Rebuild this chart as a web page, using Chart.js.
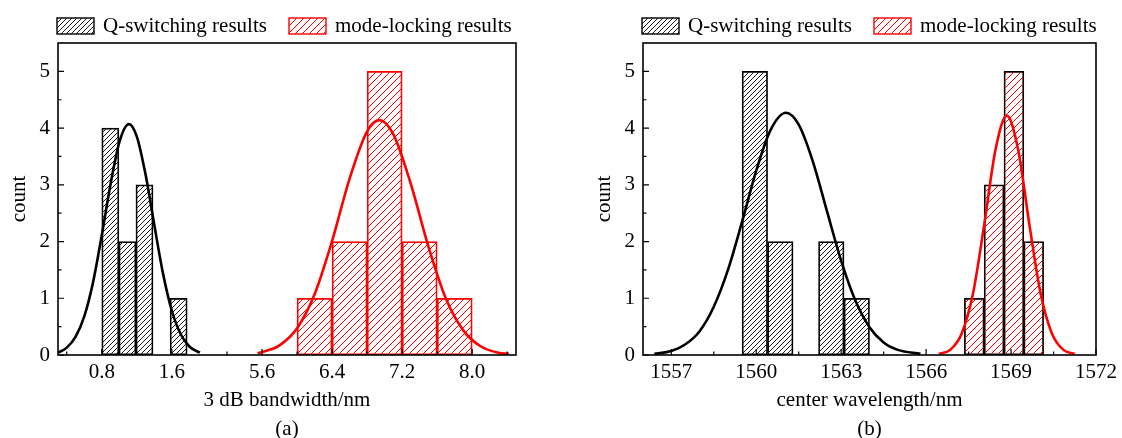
<!DOCTYPE html>
<html>
<head>
<meta charset="utf-8">
<script src="https://cdn.jsdelivr.net/npm/chart.js@4.4.1/dist/chart.umd.min.js"></script>
<style>
  html, body { margin: 0; padding: 0; background: #fff; }
  #wrap { position: relative; width: 1122px; height: 438px; }
  canvas { position: absolute; top: 0; }
</style>
</head>
<body>
<div id="wrap">
  <canvas id="chartA" width="561" height="438" style="left:0"></canvas>
  <canvas id="chartB" width="561" height="438" style="left:561px"></canvas>
</div>
<script>
// (a) 3 dB bandwidth histogram, bin centres and counts
const qCentersA = [0.8975, 1.0925, 1.2875, 1.4825, 1.6775];
const qCountsA = [4, 2, 3, 0, 1];
const mCentersA = [6.2, 6.6, 7.0, 7.4, 7.8];
const mCountsA = [1, 2, 5, 2, 1];

// (a) fitted curves
const qCurveAx = [0.3, 0.4, 0.5, 0.6, 0.7, 0.8, 0.9, 1.0, 1.11, 1.2, 1.3, 1.4, 1.5, 1.6, 1.7, 1.8, 1.92];
const qCurveAy = [0.04, 0.13, 0.32, 0.68, 1.28, 2.11, 3.01, 3.75, 4.07, 3.85, 3.18, 2.29, 1.43, 0.78, 0.37, 0.15, 0.04];
const mCurveAx = [5.55, 5.8, 6.0, 6.2, 6.4, 6.6, 6.8, 6.94, 7.1, 7.3, 7.5, 7.7, 7.9, 8.1, 8.3, 8.42];
const mCurveAy = [0.03, 0.17, 0.47, 1.07, 2.01, 3.11, 3.94, 4.14, 3.89, 3.01, 1.91, 0.99, 0.43, 0.15, 0.04, 0.02];

// (b) center wavelength histogram
const qCentersB = [1559.95, 1560.85, 1561.75, 1562.65, 1563.55];
const qCountsB = [5, 2, 0, 2, 1];
const mCentersB = [1567.7, 1568.4, 1569.1, 1569.8];
const mCountsB = [1, 3, 5, 2];

const qCurveBx = [1556.4, 1557, 1557.5, 1558, 1558.5, 1559, 1559.5, 1560, 1560.5, 1561.05, 1561.5, 1562, 1562.5, 1563, 1563.5, 1564, 1564.5, 1565, 1565.8];
const qCurveBy = [0.02, 0.07, 0.19, 0.42, 0.85, 1.5, 2.35, 3.25, 3.96, 4.27, 4.06, 3.41, 2.53, 1.66, 0.96, 0.49, 0.22, 0.09, 0.02];
const mCurveBx = [1566.45, 1566.85, 1567.25, 1567.65, 1568.05, 1568.45, 1568.85, 1569.25, 1569.65, 1570.05, 1570.45, 1570.85, 1571.25];
const mCurveBy = [0.02, 0.09, 0.37, 1.07, 2.29, 3.62, 4.22, 3.62, 2.29, 1.07, 0.37, 0.09, 0.02];

// axis ticks
const xMajorA = [0.8, 1.6, 5.6, 6.4, 7.2, 8.0];
const xMinorA = [0.4, 1.2, 5.2, 6.0, 6.8, 7.6, 8.4];
const xMajorB = [1557, 1560, 1563, 1566, 1569, 1572];
const xMinorB = [1558.5, 1561.5, 1564.5, 1567.5, 1570.5];
const yMajor = [0, 1, 2, 3, 4, 5];
const yMinor = [0.5, 1.5, 2.5, 3.5, 4.5];

const FONT = "'Liberation Serif', 'Times New Roman', serif";
const FS = 21;
const RED = '#ff0000';
Chart.defaults.font.family = FONT;
Chart.defaults.color = '#000';

function hatch(ctx, color, step) {
    const c = document.createElement('canvas');
    c.width = step; c.height = step;
    const g = c.getContext('2d');
    g.strokeStyle = color;
    g.lineWidth = 1;
    g.beginPath();
    g.moveTo(0, step); g.lineTo(step, 0);
    g.moveTo(-1, 1); g.lineTo(1, -1);
    g.moveTo(step - 1, step + 1); g.lineTo(step + 1, step - 1);
    g.stroke();
    return ctx.createPattern(c, 'repeat');
}

// frame, inward ticks, legend and caption
function makeDecor(p) {
    return {
        id: 'decor',
        afterDatasetsDraw(chart) {
            const { ctx, chartArea: a, scales } = chart;
            ctx.save();
            ctx.strokeStyle = '#000';
            ctx.lineWidth = 1.2;
            ctx.beginPath();
            const xt = (v, len) => {
                const px = scales.x.getPixelForValue(p.toAxis(v));
                ctx.moveTo(px, a.bottom); ctx.lineTo(px, a.bottom - len);
            };
            const yt = (v, len) => {
                const py = scales.y.getPixelForValue(v);
                ctx.moveTo(a.left, py); ctx.lineTo(a.left + len, py);
            };
            p.xMajor.forEach(v => xt(v, 6));
            p.xMinor.forEach(v => xt(v, 3.5));
            yMajor.forEach(v => yt(v, 6));
            yMinor.forEach(v => yt(v, 3.5));
            ctx.stroke();

            ctx.lineWidth = 1.6;
            ctx.strokeRect(a.left, a.top, a.right - a.left, a.bottom - a.top);

            // legend
            ctx.font = FS + 'px ' + FONT;
            ctx.textBaseline = 'middle';
            ctx.textAlign = 'left';
            p.legend.forEach((item, i) => {
                const bx = a.left - 1 + i * 232;
                ctx.fillStyle = item.fill;
                ctx.fillRect(bx, 18, 37, 16);
                ctx.lineWidth = 1.4;
                ctx.strokeStyle = item.border;
                ctx.strokeRect(bx, 18, 37, 16);
                ctx.fillStyle = '#000';
                ctx.fillText(item.label, bx + 46, 26);
            });

            ctx.textAlign = 'center';
            ctx.fillText(p.caption, (a.left + a.right) / 2, 429);
            ctx.restore();
        }
    };
}

function makePanel(id, p) {
    const canvas = document.getElementById(id);
    const ctx = canvas.getContext('2d');
    const qFill = hatch(ctx, '#1a1a1a', 5);
    const mFill = hatch(ctx, RED, 7);
    p.legend = [
        { label: 'Q-switching results', fill: qFill, border: '#000' },
        { label: 'mode-locking results', fill: mFill, border: RED }
    ];
    const lo = p.toAxis(p.xMin), hi = p.toAxis(p.xMax);
    const hiddenX = {
        type: 'linear', display: false, min: lo, max: hi, offset: false,
        afterBuildTicks: s => { s.ticks = [{ value: lo }, { value: hi }]; }
    };
    const bars = (centers, counts, fill, border, axis) => ({
        type: 'bar',
        xAxisID: axis,
        data: centers.map((c, i) => ({ x: p.toAxis(c), y: counts[i] })),
        backgroundColor: fill,
        borderColor: border,
        borderWidth: 1.1,
        borderSkipped: false,
        barPercentage: 1,
        categoryPercentage: 1,
        grouped: false,
        order: 1
    });
    const curve = (xs, ys, color) => ({
        type: 'line',
        xAxisID: 'x',
        data: xs.map((x, i) => ({ x: p.toAxis(x), y: ys[i] })),
        borderColor: color,
        borderWidth: 2.6,
        pointRadius: 0,
        cubicInterpolationMode: 'monotone',
        fill: false,
        order: 0
    });

    return new Chart(ctx, {
        type: 'bar',
        data: {
            datasets: [
                bars(p.qCenters, p.qCounts, qFill, '#000', 'xq'),
                bars(p.mCenters, p.mCounts, mFill, p.mBorder, 'xm'),
                curve(p.qCurveX, p.qCurveY, '#000'),
                curve(p.mCurveX, p.mCurveY, RED)
            ]
        },
        options: {
            responsive: false,
            animation: false,
            events: [],
            layout: { padding: { top: 43, right: p.padRight, bottom: 0, left: 0 } },
            plugins: { legend: { display: false }, tooltip: { enabled: false } },
            scales: {
                x: {
                    type: 'linear', min: lo, max: hi, offset: false,
                    grid: { display: false, drawTicks: false },
                    border: { display: false },
                    afterBuildTicks: s => { s.ticks = p.xMajor.map(v => ({ value: p.toAxis(v) })); },
                    afterFit: s => { s.height = 83; },
                    ticks: {
                        padding: 5, autoSkip: false, maxRotation: 0,
                        font: { size: FS },
                        callback: v => p.fromAxis(v).toFixed(p.decimals)
                    },
                    title: { display: true, text: p.xTitle, font: { size: FS }, padding: { top: 0, bottom: 25 } }
                },
                xq: hiddenX,
                xm: hiddenX,
                y: {
                    type: 'linear', min: 0, max: 5.5,
                    grid: { display: false, drawTicks: false },
                    border: { display: false },
                    afterBuildTicks: s => { s.ticks = yMajor.map(v => ({ value: v })); },
                    afterFit: s => { s.width = p.yWidth; },
                    ticks: { padding: 8, font: { size: FS } },
                    title: { display: true, text: 'count', font: { size: FS }, padding: { top: p.yTitlePad, bottom: 0 } }
                }
            }
        },
        plugins: [makeDecor(p)]
    });
}

// axis break in (a): 2.0 .. 4.97 is cut out
const breakLo = 2.0, breakGap = 2.97;

makePanel('chartA', {
    qCenters: qCentersA, qCounts: qCountsA, mCenters: mCentersA, mCounts: mCountsA,
    qCurveX: qCurveAx, qCurveY: qCurveAy, mCurveX: mCurveAx, mCurveY: mCurveAy,
    xMajor: xMajorA, xMinor: xMinorA, xMin: 0.3, xMax: 8.5, decimals: 1,
    toAxis: v => (v <= breakLo ? v : v - breakGap),
    fromAxis: v => (v <= breakLo + 1e-9 ? v : v + breakGap),
    xTitle: '3 dB bandwidth/nm', caption: '(a)', mBorder: RED,
    yWidth: 58, yTitlePad: 7, padRight: 45
});

makePanel('chartB', {
    qCenters: qCentersB, qCounts: qCountsB, mCenters: mCentersB, mCounts: mCountsB,
    qCurveX: qCurveBx, qCurveY: qCurveBy, mCurveX: mCurveBx, mCurveY: mCurveBy,
    xMajor: xMajorB, xMinor: xMinorB, xMin: 1556, xMax: 1572, decimals: 0,
    toAxis: v => v, fromAxis: v => v,
    xTitle: 'center wavelength/nm', caption: '(b)', mBorder: '#000',
    yWidth: 82, yTitlePad: 31, padRight: 22.5
});
</script>
</body>
</html>
